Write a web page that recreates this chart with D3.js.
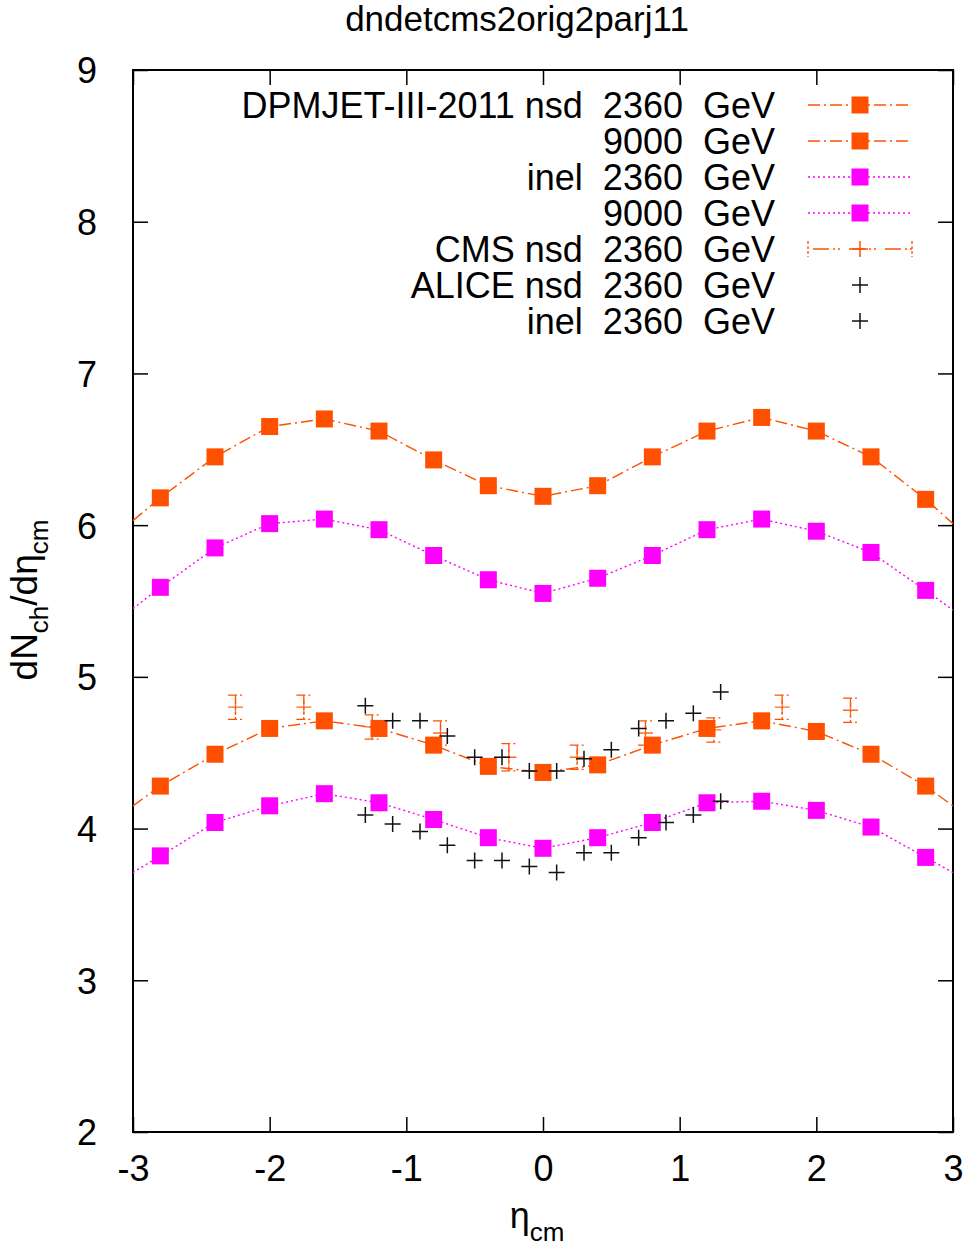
<!DOCTYPE html>
<html><head><meta charset="utf-8">
<script src="https://cdn.jsdelivr.net/npm/d3@7"></script>
<style>
body{margin:0;background:#fff;}
svg text{font-family:"Liberation Sans",Arial,Helvetica,sans-serif;fill:#000;}
</style></head>
<body><svg id="c" width="972" height="1247"></svg>
<script>
// ---- data ----
const etaModel = [-2.8,-2.4,-2.0,-1.6,-1.2,-0.8,-0.4,0,0.4,0.8,1.2,1.6,2.0,2.4,2.8];
const nsd2360  = [4.28,4.49,4.66,4.71,4.66,4.55,4.41,4.37,4.42,4.55,4.66,4.71,4.64,4.49,4.28];
const nsd9000  = [6.18,6.45,6.65,6.70,6.62,6.43,6.26,6.19,6.26,6.45,6.62,6.71,6.62,6.45,6.17];
const inel2360 = [3.82,4.04,4.15,4.23,4.17,4.06,3.94,3.87,3.94,4.04,4.17,4.18,4.12,4.01,3.81];
const inel9000 = [5.59,5.85,6.01,6.04,5.97,5.80,5.64,5.55,5.65,5.80,5.97,6.04,5.96,5.82,5.57];
// curve values where the lines meet the frame at eta = -3 and +3
const edgeEta = [-3, 3];
const nsd2360Edge  = [4.15, 4.15];
const nsd9000Edge  = [6.03, 6.01];
const inel2360Edge = [3.71, 3.71];
const inel9000Edge = [5.45, 5.44];

const cmsEta = [-2.25,-1.75,-1.25,-0.75,-0.25,0.25,0.75,1.25,1.75,2.25];
const cmsNsd = [4.80,4.80,4.67,4.63,4.47,4.47,4.63,4.65,4.80,4.78];
const cmsErr = [0.08,0.08,0.08,0.08,0.09,0.08,0.08,0.08,0.08,0.08];

const aliceEta  = [-1.3,-1.1,-0.9,-0.7,-0.5,-0.3,-0.1,0.1,0.3,0.5,0.7,0.9,1.1,1.3];
const aliceNsd  = [4.81,4.71,4.71,4.61,4.47,4.47,4.38,4.38,4.46,4.52,4.66,4.71,4.76,4.90];
const aliceInel = [4.09,4.03,3.98,3.89,3.79,3.79,3.75,3.71,3.84,3.84,3.94,4.04,4.09,4.18];

const xTicks = [-3,-2,-1,0,1,2,3];
const yTicks = [2,3,4,5,6,7,8,9];
const legendLabels = [
  "DPMJET-III-2011 nsd  2360  GeV",
  "9000  GeV",
  "inel  2360  GeV",
  "9000  GeV",
  "CMS nsd  2360  GeV",
  "ALICE nsd  2360  GeV",
  "inel  2360  GeV"
];
const titleText = "dndetcms2orig2parj11";

// ---- layout ----
const ORANGE = "#ff5000", MAGENTA = "#ff00ff";
const L = 133, R = 953, T = 70, B = 1132;
const FS = 36;
const svg = d3.select("#c");
const x = d3.scaleLinear().domain([-3,3]).range([L,R]);
const y = d3.scaleLinear().domain([2,9]).range([B,T]);
const fmt = d => String(d);

// title
svg.append("text").attr("x",517).attr("y",31).attr("text-anchor","middle")
  .style("font-size","35px").text(titleText);

// axes (ticks inward, mirrored)
const tickLen = 15;
const gx = svg.append("g").attr("transform",`translate(0,${B})`)
  .call(d3.axisBottom(x).tickValues(xTicks).tickSize(-tickLen).tickFormat(fmt));
const gxt = svg.append("g").attr("transform",`translate(0,${T})`)
  .call(d3.axisTop(x).tickValues(xTicks).tickSize(-tickLen).tickFormat(""));
const gy = svg.append("g").attr("transform",`translate(${L},0)`)
  .call(d3.axisLeft(y).tickValues(yTicks).tickSize(-tickLen).tickPadding(tickLen+21).tickFormat(fmt));
const gyr = svg.append("g").attr("transform",`translate(${R},0)`)
  .call(d3.axisRight(y).tickValues(yTicks).tickSize(-tickLen).tickFormat(""));
[gx,gxt,gy,gyr].forEach(g=>{
  g.select(".domain").remove();
  g.selectAll("line").attr("stroke","#000").attr("stroke-width",1.5);
  g.selectAll("text").style("font-size",FS+"px").attr("font-family",null);
});
gx.selectAll("text").attr("dy","0.71em").attr("y",23);
gy.selectAll("text").attr("dy","0.36em");
svg.append("rect").attr("x",L).attr("y",T).attr("width",R-L).attr("height",B-T)
  .attr("fill","none").attr("stroke","#000").attr("stroke-width",2);

// axis labels
const xl = svg.append("text").attr("x",537).attr("y",1228).attr("text-anchor","middle").style("font-size",FS+"px");
xl.append("tspan").text("η");
xl.append("tspan").attr("dy",13).style("font-size","26px").text("cm");

const yl = svg.append("text").attr("transform","translate(37,600) rotate(-90)").attr("text-anchor","middle").style("font-size","37px");
yl.append("tspan").text("dN");
yl.append("tspan").attr("dy",11).style("font-size","26px").text("ch");
yl.append("tspan").attr("dy",-11).text("/dη");
yl.append("tspan").attr("dy",11).style("font-size","26px").text("cm");

// model curves
const dashDot = "12,4,2,4";
const dotted = "2,3";
const lineGen = d3.line().x(d=>x(d[0])).y(d=>y(d[1]));
const models = [
  {vals:nsd2360, edge:nsd2360Edge, color:ORANGE, dash:dashDot},
  {vals:nsd9000, edge:nsd9000Edge, color:ORANGE, dash:dashDot},
  {vals:inel2360, edge:inel2360Edge, color:MAGENTA, dash:dotted},
  {vals:inel9000, edge:inel9000Edge, color:MAGENTA, dash:dotted}
];
const SQ = 17;
models.forEach(m=>{
  const pts = etaModel.map((e,i)=>[e,m.vals[i]]);
  const linePts = [[edgeEta[0],m.edge[0]], ...pts, [edgeEta[1],m.edge[1]]];
  svg.append("path").attr("d",lineGen(linePts)).attr("fill","none")
    .attr("stroke",m.color).attr("stroke-width",1.4).attr("stroke-dasharray",m.dash);
  svg.append("g").selectAll("rect").data(pts).join("rect")
    .attr("x",d=>x(d[0])-SQ/2).attr("y",d=>y(d[1])-SQ/2).attr("width",SQ).attr("height",SQ)
    .attr("fill",m.color);
});

// plus marker helper
function plusPath(cx,cy,s){return `M${cx-s},${cy}H${cx+s}M${cx},${cy-s}V${cy+s}`;}

// CMS error bars
const cap = 7.5;
const gc = svg.append("g");
cmsEta.forEach((e,i)=>{
  const cx = x(e), y0 = y(cmsNsd[i]-cmsErr[i]), y1 = y(cmsNsd[i]+cmsErr[i]);
  gc.append("path").attr("d",`M${cx-cap},${y1}H${cx+cap}M${cx},${y1}V${y0}M${cx-cap},${y0}H${cx+cap}`)
    .attr("fill","none").attr("stroke",ORANGE).attr("stroke-width",1.3).attr("stroke-dasharray","9,3,2,3,2,3");
  gc.append("path").attr("d",plusPath(cx,y(cmsNsd[i]),7.5)).attr("stroke",ORANGE).attr("stroke-width",1.3).attr("fill","none").attr("opacity",0.85);
});

// ALICE points
[aliceNsd, aliceInel].forEach(vals=>{
  svg.append("g").selectAll("path").data(aliceEta.map((e,i)=>[e,vals[i]])).join("path")
    .attr("d",d=>plusPath(x(d[0]),y(d[1]),8)).attr("stroke","#111").attr("stroke-width",1.5).attr("fill","none");
});

// legend
const lg = svg.append("g");
const lx0 = 808, lx1 = 912, lmx = 860;
legendLabels.forEach((t,i)=>{
  const ry = 105 + i*36;
  lg.append("text").attr("x",775).attr("y",ry).attr("dy","0.36em").attr("text-anchor","end")
    .style("font-size",FS+"px").style("white-space","pre").attr("xml:space","preserve").text(t);
  if(i<4){
    const m = models[i];
    lg.append("line").attr("x1",lx0).attr("x2",lx1).attr("y1",ry).attr("y2",ry)
      .attr("stroke",m.color).attr("stroke-width",1.4).attr("stroke-dasharray",m.dash);
    lg.append("rect").attr("x",lmx-SQ/2).attr("y",ry-SQ/2).attr("width",SQ).attr("height",SQ).attr("fill",m.color);
  } else if(i===4){
    lg.append("path").attr("d",`M${lx0},${ry-8}V${ry+8}M${lx1},${ry-8}V${ry+8}`).attr("stroke",ORANGE).attr("stroke-width",1.3).attr("stroke-dasharray","3,2");
    lg.append("line").attr("x1",lx0).attr("x2",lx1).attr("y1",ry).attr("y2",ry)
      .attr("stroke",ORANGE).attr("stroke-width",1.3).attr("stroke-dasharray","0,5,16,4,2,3,2,4");
    lg.append("path").attr("d",plusPath(lmx,ry,8)).attr("stroke",ORANGE).attr("stroke-width",1.5);
  } else {
    lg.append("path").attr("d",plusPath(lmx,ry,8)).attr("stroke","#111").attr("stroke-width",1.5);
  }
});
</script></body></html>
